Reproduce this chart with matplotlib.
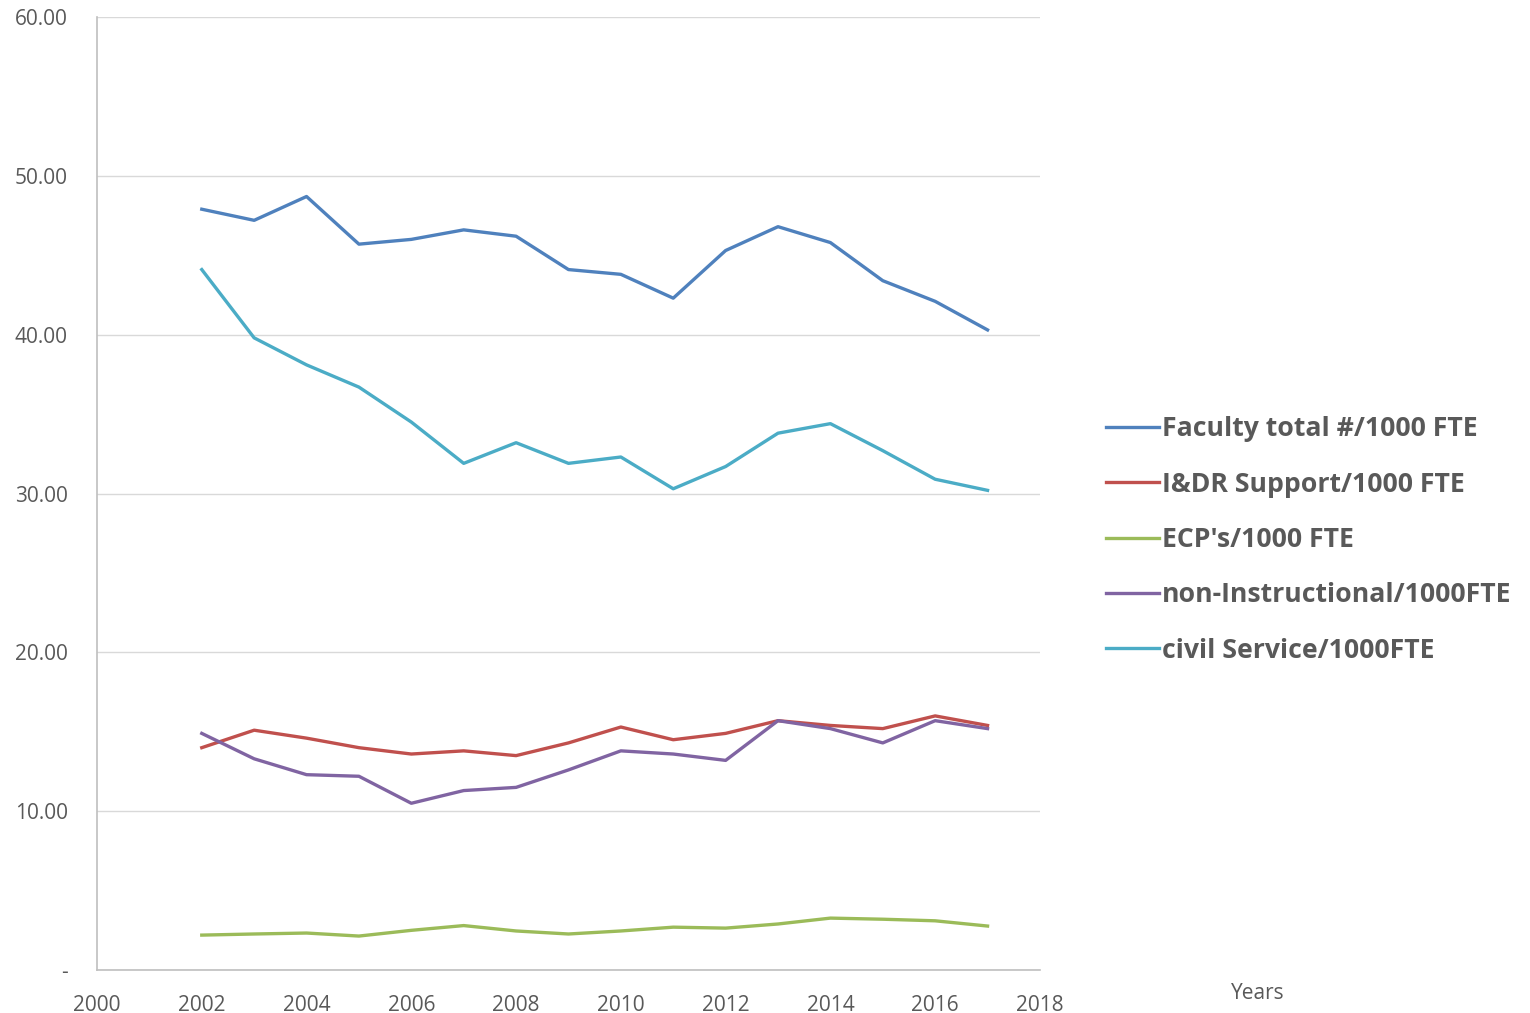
import matplotlib
matplotlib.use('Agg')
import matplotlib.pyplot as plt
from matplotlib.ticker import FuncFormatter

plt.rcParams['font.family'] = ['Open Sans', 'DejaVu Sans']

years = list(range(2002, 2018))

faculty = [47.9, 47.2, 48.7, 45.7, 46.0, 46.6, 46.2, 44.1, 43.8, 42.3,
           45.3, 46.8, 45.8, 43.4, 42.1, 40.3]
idr_support = [14.0, 15.1, 14.6, 14.0, 13.6, 13.8, 13.5, 14.3, 15.3, 14.5,
               14.9, 15.7, 15.4, 15.2, 16.0, 15.4]
ecps = [2.2, 2.27, 2.33, 2.14, 2.5, 2.8, 2.46, 2.27, 2.46, 2.7,
        2.64, 2.9, 3.27, 3.2, 3.1, 2.77]
non_instr = [14.9, 13.3, 12.3, 12.2, 10.5, 11.3, 11.5, 12.6, 13.8, 13.6,
             13.2, 15.7, 15.2, 14.3, 15.7, 15.2]
civil = [44.1, 39.8, 38.1, 36.7, 34.5, 31.9, 33.2, 31.9, 32.3, 30.3,
         31.7, 33.8, 34.4, 32.7, 30.9, 30.2]

labels = ['Faculty total #/1000 FTE', 'I&DR Support/1000 FTE', "ECP's/1000 FTE",
          'non-Instructional/1000FTE', 'civil Service/1000FTE']
colors = ['#4F81BD', '#C0504D', '#9BBB59', '#8064A2', '#4BACC6']
txt = '#595959'

fig = plt.figure(figsize=(15.3, 10.13), dpi=100)
ax = fig.add_axes([0.0634, 0.0424, 0.6163, 0.9408])

for vals, lab, c in zip([faculty, idr_support, ecps, non_instr, civil], labels, colors):
    ax.plot(years, vals, color=c, lw=2.4, label=lab)

ax.set_xlim(2000, 2018)
ax.set_ylim(0, 60)
ax.set_xticks(range(2000, 2019, 2))
ax.set_yticks(range(0, 61, 10))
ax.yaxis.set_major_formatter(FuncFormatter(lambda v, p: '-' if v == 0 else '%.2f' % v))
ax.grid(axis='y', color='#D9D9D9', lw=1)
ax.set_axisbelow(True)
for s in ['top', 'right']:
    ax.spines[s].set_visible(False)
for s in ['left', 'bottom']:
    ax.spines[s].set_color('#BFBFBF')
    ax.spines[s].set_linewidth(1.2)
ax.tick_params(length=0, labelsize=15, colors=txt)
ax.tick_params(axis='x', pad=18)
ax.tick_params(axis='y', pad=21)

fig.text(0.822, 0.019, 'Years', fontsize=15, color=txt, ha='center', va='center')

leg = fig.legend(loc='center left', bbox_to_anchor=(0.7158, 0.467), frameon=False,
                 prop={'weight': 'bold', 'size': 19.2}, handlelength=2.0,
                 handletextpad=0.1, labelspacing=1.1, borderaxespad=0)
for t in leg.get_texts():
    t.set_color(txt)

fig.savefig('out.png', dpi=100)
